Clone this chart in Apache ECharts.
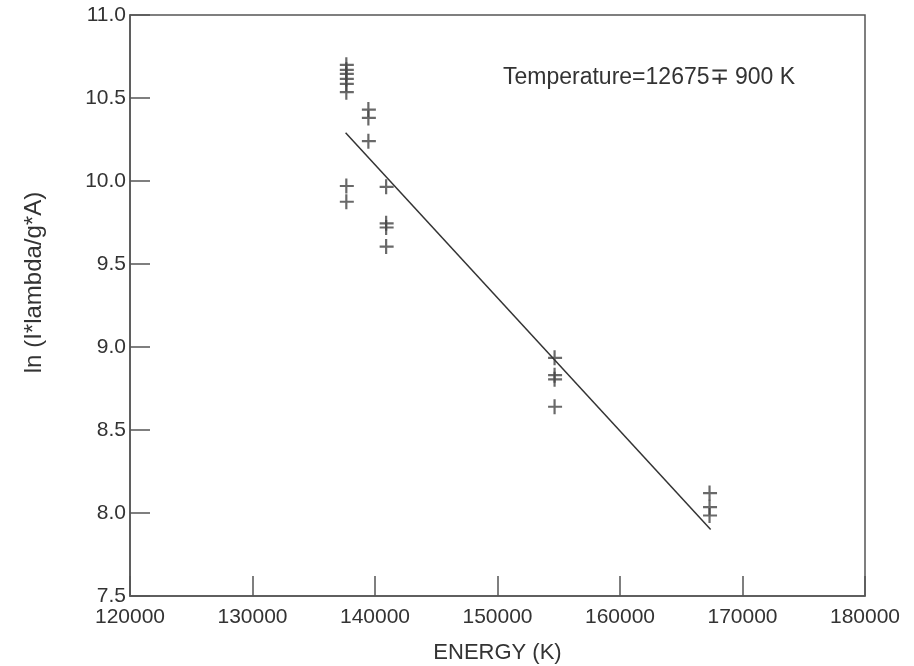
<!DOCTYPE html>
<html>
<head>
<meta charset="utf-8">
<script src="https://cdn.jsdelivr.net/npm/echarts@6/dist/echarts.min.js"></script>
<style>
  html, body { margin: 0; padding: 0; background: #fff; }
  #chart { width: 914px; height: 666px; }
</style>
</head>
<body>
<div id="chart"></div>
<script>
// measured points: energy (K) vs ln(I*lambda/g*A)
const energy = [
  137700, 137700, 137700, 137700, 137700, 137700, 137700, 137700,
  139500, 139500, 139500,
  140950, 140950, 140950, 140950,
  154700, 154700, 154700, 154700,
  167350, 167350, 167350
];
const lnValue = [
  10.70, 10.67, 10.645, 10.615, 10.585, 10.535, 9.97, 9.875,
  10.43, 10.38, 10.24,
  9.965, 9.745, 9.72, 9.605,
  8.935, 8.83, 8.805, 8.64,
  8.12, 8.035, 7.985
];
// least squares fit line end points
const fitEnergy = [137600, 167400];
const fitValue = [10.29, 7.90];
const annotation = "Temperature=12675\u2213 900 K";

const ink = "#333";
const font = "Liberation Sans, Arial, sans-serif";
const plusPath = "path://M5.4,0 H7.6 V6.4 H14 V8.6 H7.6 V15 H5.4 V8.6 H0 V6.4 H5.4 Z";

const chart = echarts.init(document.getElementById("chart"), null, { renderer: "canvas" });

chart.setOption({
  backgroundColor: "#fff",
  animation: false,
  textStyle: { fontFamily: font, color: ink },
  grid: {
    left: 130, right: 49, top: 15, bottom: 70,
    outerBoundsMode: "none",
    show: true, borderColor: "#555", borderWidth: 1.5
  },
  xAxis: {
    type: "value",
    min: 120000, max: 180000, interval: 10000,
    name: "ENERGY (K)",
    nameLocation: "middle",
    nameGap: 46,
    nameTextStyle: { fontSize: 22, color: ink },
    axisLine: { show: true, lineStyle: { color: "#555", width: 1.5 } },
    axisTick: { show: true, inside: true, length: 20, lineStyle: { color: "#555", width: 1.5 } },
    axisLabel: { fontSize: 21, color: ink, margin: 11, formatter: (v) => String(v) },
    splitLine: { show: false }
  },
  yAxis: {
    type: "value",
    min: 7.5, max: 11, interval: 0.5,
    name: "ln (I*lambda/g*A)",
    nameLocation: "middle",
    nameGap: 84,
    nameTextStyle: { fontSize: 24, color: ink, padding: [0, 0, 0, 46] },
    axisLine: { show: true, lineStyle: { color: "#555", width: 1.5 } },
    axisTick: { show: true, inside: true, length: 20, lineStyle: { color: "#555", width: 1.5 } },
    axisLabel: { fontSize: 21, color: ink, margin: 4, formatter: (v) => v.toFixed(1) },
    splitLine: { show: false }
  },
  graphic: [
    {
      type: "text",
      left: 503, top: 66,
      style: { text: annotation, fontSize: 23, fill: ink, fontFamily: font }
    }
  ],
  series: [
    {
      type: "scatter",
      data: energy.map((e, i) => [e, lnValue[i]]),
      symbol: plusPath,
      symbolSize: [14, 15],
      itemStyle: { color: "#444" }
    },
    {
      type: "line",
      data: fitEnergy.map((e, i) => [e, fitValue[i]]),
      symbol: "none",
      lineStyle: { color: "#333", width: 1.5 }
    }
  ]
});
</script>
</body>
</html>
